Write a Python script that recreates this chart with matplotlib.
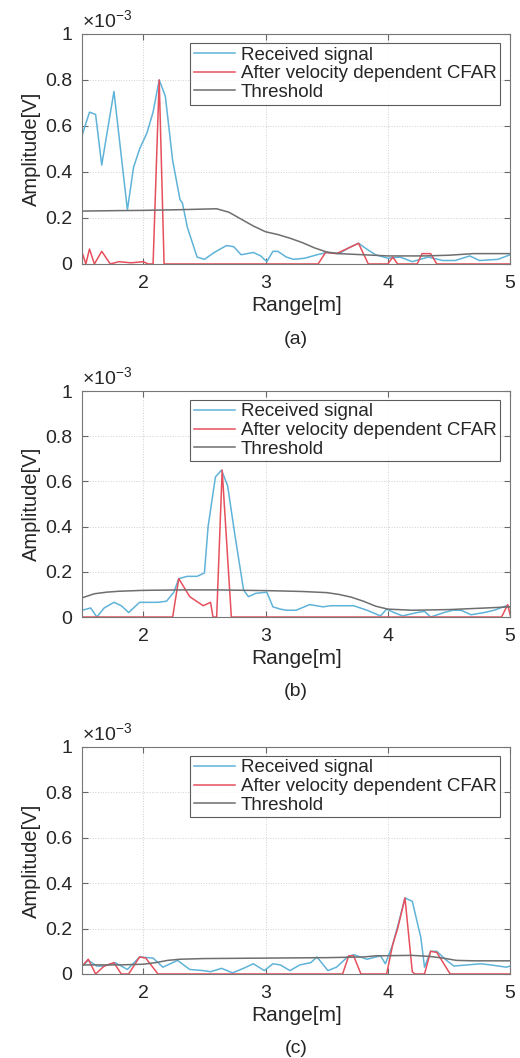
import matplotlib
matplotlib.use("Agg")
import matplotlib.pyplot as plt

plt.rcParams["font.family"] = ["Liberation Sans", "DejaVu Sans"]
plt.rcParams["mathtext.fontset"] = "custom"
plt.rcParams["mathtext.rm"] = "Liberation Sans"

# values in units of 1e-3 V, range in m
a_sig_x = [1.50, 1.56, 1.61, 1.66, 1.76, 1.87, 1.92, 1.97, 2.03, 2.08, 2.13, 2.18, 2.24, 2.30, 2.32,
           2.36, 2.44, 2.50, 2.58, 2.68, 2.74, 2.80, 2.90, 2.96, 3.01, 3.06, 3.10, 3.17, 3.23, 3.32,
           3.42, 3.50, 3.60, 3.68, 3.76, 3.84, 3.90, 4.00, 4.10, 4.20, 4.33, 4.45, 4.55, 4.67, 4.75,
           4.90, 5.00]
a_sig_y = [0.56, 0.66, 0.65, 0.43, 0.75, 0.235, 0.42, 0.50, 0.57, 0.66, 0.80, 0.73, 0.45, 0.28, 0.265,
           0.16, 0.03, 0.02, 0.05, 0.08, 0.075, 0.04, 0.05, 0.035, 0.01, 0.055, 0.055, 0.03, 0.02, 0.025,
           0.04, 0.05, 0.045, 0.07, 0.09, 0.06, 0.04, 0.025, 0.03, 0.01, 0.03, 0.015, 0.015, 0.035, 0.015,
           0.02, 0.04]
a_cfar_x = [1.50, 1.53, 1.56, 1.60, 1.66, 1.73, 1.80, 1.90, 2.00, 2.04, 2.08, 2.13, 2.17, 3.43, 3.49,
            3.58, 3.76, 3.84, 4.00, 4.04, 4.08, 4.24, 4.28, 4.35, 4.40, 5.00]
a_cfar_y = [0.05, 0.0, 0.065, 0.0, 0.055, 0.0, 0.01, 0.005, 0.01, 0.0, 0.0, 0.80, 0.0, 0.0, 0.05,
            0.045, 0.09, 0.0, 0.0, 0.03, 0.0, 0.0, 0.045, 0.045, 0.0, 0.0]
a_thr_x = [1.5, 1.8, 2.0, 2.3, 2.6, 2.7, 2.8, 2.9, 3.0, 3.1, 3.2, 3.3, 3.4, 3.5, 3.6, 3.8, 4.0, 4.3,
           4.5, 4.7, 5.0]
a_thr_y = [0.23, 0.232, 0.233, 0.236, 0.24, 0.225, 0.195, 0.165, 0.14, 0.128, 0.112, 0.093, 0.07,
           0.052, 0.045, 0.04, 0.035, 0.035, 0.038, 0.045, 0.045]

b_sig_x = [1.50, 1.57, 1.62, 1.68, 1.76, 1.82, 1.88, 1.97, 2.05, 2.12, 2.19, 2.25, 2.29, 2.36, 2.44,
           2.50, 2.53, 2.59, 2.64, 2.69, 2.75, 2.82, 2.86, 2.92, 3.01, 3.06, 3.12, 3.17, 3.25, 3.36,
           3.47, 3.53, 3.61, 3.72, 3.83, 3.94, 3.99, 4.05, 4.12, 4.24, 4.30, 4.35, 4.46, 4.53, 4.60,
           4.68, 4.79, 4.87, 4.97, 5.00]
b_sig_y = [0.03, 0.04, 0.0, 0.04, 0.065, 0.05, 0.02, 0.065, 0.065, 0.065, 0.07, 0.11, 0.17, 0.18, 0.18,
           0.195, 0.40, 0.62, 0.65, 0.58, 0.36, 0.12, 0.09, 0.105, 0.11, 0.045, 0.035, 0.03, 0.03, 0.055,
           0.045, 0.05, 0.05, 0.05, 0.03, 0.005, 0.035, 0.02, 0.005, 0.02, 0.025, 0.0, 0.02, 0.03, 0.03,
           0.01, 0.02, 0.03, 0.05, 0.045]
b_cfar_x = [1.50, 2.24, 2.29, 2.38, 2.49, 2.55, 2.57, 2.60, 2.645, 2.72, 4.93, 4.98, 5.00]
b_cfar_y = [0.0, 0.0, 0.17, 0.09, 0.05, 0.065, 0.0, 0.0, 0.65, 0.0, 0.0, 0.055, 0.01]
b_thr_x = [1.5, 1.6, 1.7, 1.8, 2.0, 2.3, 2.6, 3.0, 3.3, 3.5, 3.6, 3.7, 3.8, 3.9, 4.0, 4.2, 4.5, 4.8, 5.0]
b_thr_y = [0.085, 0.103, 0.11, 0.114, 0.118, 0.12, 0.12, 0.117, 0.113, 0.108, 0.1, 0.088, 0.07,
           0.048, 0.035, 0.03, 0.033, 0.04, 0.045]

c_sig_x = [1.50, 1.55, 1.62, 1.68, 1.77, 1.87, 1.97, 2.08, 2.16, 2.28, 2.38, 2.49, 2.55, 2.64, 2.73,
           2.82, 2.90, 2.99, 3.06, 3.12, 3.20, 3.28, 3.37, 3.42, 3.51, 3.58, 3.67, 3.72, 3.83, 3.94,
           3.98, 4.04, 4.10, 4.14, 4.20, 4.27, 4.30, 4.35, 4.40, 4.48, 4.54, 4.65, 4.76, 4.84, 4.97, 5.00]
c_sig_y = [0.035, 0.06, 0.035, 0.035, 0.05, 0.02, 0.075, 0.07, 0.03, 0.06, 0.02, 0.015, 0.01, 0.025,
           0.005, 0.025, 0.045, 0.015, 0.045, 0.04, 0.015, 0.04, 0.05, 0.075, 0.015, 0.03, 0.075, 0.085,
           0.065, 0.08, 0.045, 0.13, 0.25, 0.335, 0.32, 0.16, 0.03, 0.1, 0.1, 0.06, 0.035, 0.04, 0.045,
           0.04, 0.03, 0.035]
c_cfar_x = [1.50, 1.55, 1.61, 1.68, 1.76, 1.82, 1.88, 1.97, 2.02, 2.12, 3.63, 3.68, 3.72, 3.78, 3.99,
            4.04, 4.08, 4.14, 4.20, 4.22, 4.30, 4.35, 4.40, 4.51, 5.00]
c_cfar_y = [0.035, 0.065, 0.0, 0.035, 0.05, 0.0, 0.0, 0.075, 0.07, 0.0, 0.0, 0.08, 0.08, 0.0, 0.0,
            0.13, 0.2, 0.335, 0.01, 0.0, 0.0, 0.1, 0.095, 0.0, 0.0]
c_thr_x = [1.5, 1.8, 2.0, 2.1, 2.2, 2.3, 2.5, 3.0, 3.5, 3.8, 3.9, 4.2, 4.35, 4.45, 4.56, 4.7, 5.0]
c_thr_y = [0.04, 0.04, 0.043, 0.05, 0.06, 0.065, 0.068, 0.07, 0.072, 0.075, 0.08, 0.082, 0.077, 0.07,
           0.06, 0.058, 0.058]

labels = ["Received signal", "After velocity dependent CFAR", "Threshold"]
x_ticks = [2, 3, 4, 5]
y_ticks = [0, 0.2, 0.4, 0.6, 0.8, 1]
captions = ["(a)", "(b)", "(c)"]

panels = [
    (a_sig_x, a_sig_y, a_cfar_x, a_cfar_y, a_thr_x, a_thr_y),
    (b_sig_x, b_sig_y, b_cfar_x, b_cfar_y, b_thr_x, b_thr_y),
    (c_sig_x, c_sig_y, c_cfar_x, c_cfar_y, c_thr_x, c_thr_y),
]
boxes = [
    [0.158, 0.7505, 0.823, 0.2174],
    [0.158, 0.4168, 0.823, 0.2136],
    [0.158, 0.0794, 0.823, 0.2146],
]

fig = plt.figure(figsize=(5.2, 10.58), dpi=100)
for box, data, caption in zip(boxes, panels, captions):
    ax = fig.add_axes(box)
    sx, sy, cx, cy, tx, ty = data
    ax.plot(sx, sy, color="#5fb3d8", lw=1.1, label=labels[0])
    ax.plot(cx, cy, color="#e6505c", lw=1.1, label=labels[1])
    ax.plot(tx, ty, color="#6e6e6e", lw=1.1, label=labels[2])
    ax.set_xlim(1.5, 5)
    ax.set_ylim(0, 1)
    ax.set_xticks(x_ticks)
    ax.set_yticks(y_ticks)
    ax.set_yticklabels([f"{v:g}" for v in y_ticks])
    ax.grid(True, color="#d0d0d0", ls=":", lw=0.7)
    ax.tick_params(direction="in", length=4, top=True, right=True, color="#666666",
                   labelsize=14, labelcolor="#262626")
    ax.tick_params(axis="y", pad=7)
    ax.tick_params(axis="x", pad=8)
    for sp in ax.spines.values():
        sp.set_color("#777777")
        sp.set_linewidth(0.8)
    ax.set_xlabel("Range[m]", fontsize=15, color="#262626", labelpad=3)
    ax.set_ylabel("Amplitude[V]", fontsize=14.5, color="#262626", labelpad=3)
    ax.text(0.0, 1.008, r"$\times10^{-3}$", transform=ax.transAxes, fontsize=14,
            color="#262626", ha="left", va="bottom")
    ax.text(0.5, -0.33, caption, transform=ax.transAxes, fontsize=14,
            color="#262626", ha="center", va="center")
    leg = ax.legend(loc="upper right", bbox_to_anchor=(0.977, 0.962), borderaxespad=0,
                    fontsize=13.5, handlelength=2.2, handletextpad=0.3, labelspacing=0.08,
                    borderpad=0.2, frameon=True, fancybox=False)
    leg.get_frame().set_edgecolor("#333333")
    leg.get_frame().set_linewidth(0.8)
    for t in leg.get_texts():
        t.set_color("#262626")

fig.savefig("out.png", dpi=100)
